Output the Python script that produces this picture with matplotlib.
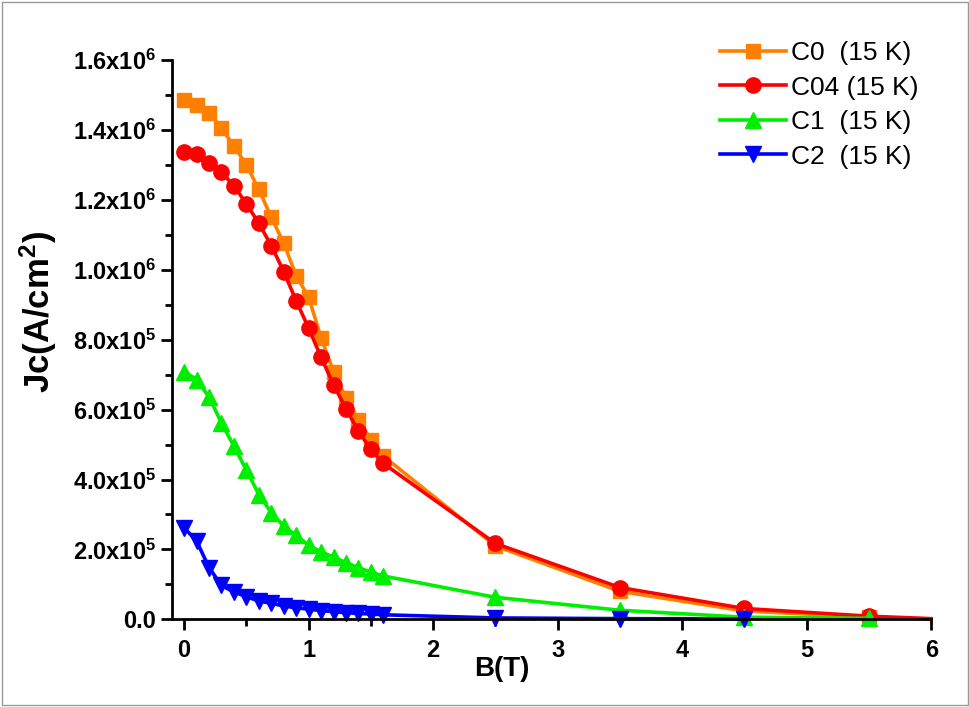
import numpy as np
import matplotlib.pyplot as plt
from matplotlib.patches import Rectangle
from matplotlib.ticker import MultipleLocator, FuncFormatter

plt.rcParams['font.family'] = ['Liberation Sans', 'DejaVu Sans']
plt.rcParams['font.weight'] = 'bold'
plt.rcParams['mathtext.fontset'] = 'custom'
plt.rcParams['mathtext.rm'] = 'Liberation Sans:bold'
plt.rcParams['mathtext.bf'] = 'Liberation Sans:bold'
plt.rcParams['mathtext.it'] = 'Liberation Sans:bold'

# field values (T)
B_low = [0.0, 0.1, 0.2, 0.3, 0.4, 0.5, 0.6, 0.7, 0.8, 0.9,
         1.0, 1.1, 1.2, 1.3, 1.4, 1.5, 1.6]
B_high = [2.5, 3.5, 4.5, 5.5, 6.0]

# Jc in units of 1e6 A/cm^2
jc_c0 = [1.486, 1.471, 1.450, 1.405, 1.354, 1.300, 1.230, 1.150, 1.076, 0.983,
         0.922, 0.805, 0.709, 0.633, 0.571, 0.514, 0.467,
         0.210, 0.080, 0.024, 0.006, 0.001]
jc_c04 = [1.338, 1.331, 1.307, 1.279, 1.240, 1.189, 1.133, 1.069, 0.995, 0.911,
          0.833, 0.750, 0.671, 0.603, 0.538, 0.486, 0.446,
          0.217, 0.091, 0.031, 0.009, 0.002]
jc_c1 = [0.709, 0.686, 0.636, 0.562, 0.495, 0.427, 0.357, 0.305, 0.267, 0.240,
         0.212, 0.193, 0.178, 0.162, 0.148, 0.135, 0.124,
         0.063, 0.026, 0.006, 0.003]
jc_c2 = [0.262, 0.224, 0.148, 0.097, 0.078, 0.065, 0.052, 0.046, 0.038, 0.033,
         0.029, 0.025, 0.022, 0.019, 0.017, 0.015, 0.013,
         0.004, 0.002, 0.001]

series = [
    ("C0  (15 K)", jc_c0, "#FF8000", "s", 10),
    ("C04 (15 K)", jc_c04, "#FF0000", "o", 11),
    ("C1  (15 K)", jc_c1, "#00EE00", "^", 11),
    ("C2  (15 K)", jc_c2, "#0000FF", "v", 11),
]

fig = plt.figure(figsize=(9.7, 7.07), dpi=100)
ax = fig.add_axes([0.177, 0.124, 0.783, 0.791])

for label, jc, color, marker, ms in series:
    x = np.array(B_low + B_high)[:len(jc)]
    y = np.array(jc) * 1e6
    n_mark = min(len(x), len(B_low) + 4)
    ax.plot(x, y, color=color, lw=2.6, marker=marker, ms=ms,
            markevery=list(range(n_mark)), label=label, clip_on=False)

ax.set_xlim(-0.1, 6)
ax.set_ylim(0, 1.6e6)
ax.xaxis.set_major_locator(MultipleLocator(1))
ax.xaxis.set_minor_locator(MultipleLocator(0.5))
ax.yaxis.set_major_locator(MultipleLocator(2e5))
ax.yaxis.set_minor_locator(MultipleLocator(1e5))


def yfmt(v, pos):
    if v <= 0:
        return "0.0"
    exp = int(np.floor(np.log10(v)))
    return r"$%.1f\mathrm{x}10^{%d}$" % (v / 10 ** exp, exp)


ax.yaxis.set_major_formatter(FuncFormatter(yfmt))
ax.tick_params(which='major', direction='out', length=8, width=2)
ax.tick_params(which='minor', direction='out', length=5, width=2)
ax.tick_params(axis='y', labelsize=17, pad=3)
ax.tick_params(axis='x', labelsize=17, pad=6)
for s in ['top', 'right']:
    ax.spines[s].set_visible(False)
for s in ['left', 'bottom']:
    ax.spines[s].set_linewidth(2)

ax.set_xlabel("B(T)", fontsize=20, fontweight='bold')
ax.xaxis.set_label_coords(0.435, -0.066)
ax.set_ylabel(r"Jc(A/cm$^2$)", fontsize=25, fontweight='bold')
ax.yaxis.set_label_coords(-0.148, 0.55)

leg = ax.legend(loc='upper left', frameon=False, fontsize=19,
                handlelength=2.5, handletextpad=0.2, labelspacing=0.4,
                borderpad=0, borderaxespad=0,
                bbox_to_anchor=(0.742, 0.942), bbox_transform=fig.transFigure)
for t in leg.get_texts():
    t.set_fontweight('normal')

fig.patches.append(Rectangle((0.002, 0.003), 0.996, 0.994, transform=fig.transFigure,
                             fill=False, edgecolor='#999999', lw=1))

fig.savefig("out.png", dpi=100)
